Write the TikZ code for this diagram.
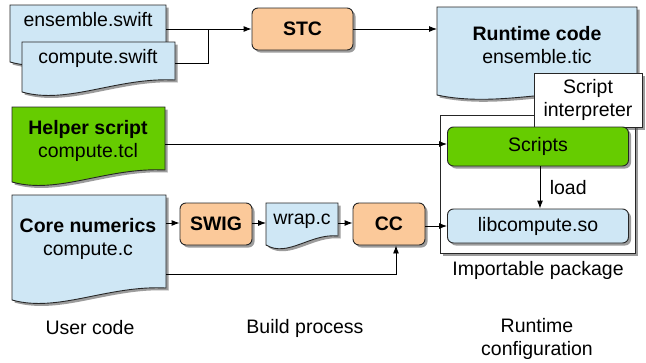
\documentclass[tikz,border=0pt]{standalone}
\usepackage{fontspec}
\setmainfont{Liberation Sans}
\usetikzlibrary{shadows,arrows.meta}
\definecolor{docblue}{HTML}{CFE7F5}
\definecolor{procorange}{HTML}{FBC99A}
\definecolor{scriptgreen}{HTML}{66CC00}
\tikzset{
  sh/.style={drop shadow={shadow xshift=2.5pt,shadow yshift=-2.5pt,opacity=0.55,fill=black!70}},
  outline/.style={draw=black!85,line width=0.9pt},
  proc/.style={outline,fill=procorange,rounded corners=6pt,sh,font=\fontsize{19.5}{23}\selectfont\bfseries},
  lbl/.style={align=center},
  conn/.style={line width=0.9pt,-{Latex[length=8pt,width=6pt]}},
  plain/.style={line width=0.9pt}
}
\newcommand\docshape[6]{%
  \pgfmathsetmacro\dw{#3-#1}%
  \pgfmathsetmacro\ca{#1+0.3*\dw}%
  \pgfmathsetmacro\cb{#1+0.62*\dw}%
  \path[outline,fill=#6,sh] (#1,#2) -- (#3,#2) -- (#3,#5) .. controls (\cb,#5-3) and (\ca,#4+13) .. (#1,#4) -- cycle;}
\begin{document}
\begin{tikzpicture}[x=1pt,y=-1pt,font=\fontsize{19.5}{23}\selectfont]
\useasboundingbox[fill=white] (0,0) rectangle (646,362);
% user code documents
\docshape{10}{5}{166}{62}{52}{docblue}
\node[lbl] (ens) at (88,20) {ensemble.swift};
\docshape{22}{42}{175}{92}{80}{docblue}
\node[lbl] (cmp) at (98,58) {compute.swift};
\docshape{12}{107}{165}{182}{170}{scriptgreen}
\node[lbl] (help) at (88,141) {\textbf{Helper script}\\compute.tcl};
\docshape{12}{195}{166}{300}{288}{docblue}
\node[lbl] (core) at (88,239) {\textbf{Core numerics}\\compute.c};
% build process
\node[proc,minimum width=101pt,minimum height=42pt] (stc) at (302.5,29) {STC};
\node[proc,minimum width=72pt,minimum height=42pt] (swig) at (216,224) {SWIG};
\docshape{266}{203}{338}{245}{236}{docblue}
\node[lbl] (wrap) at (302,221) {wrap.c};
\node[proc,minimum width=72pt,minimum height=42pt] (cc) at (389,224) {CC};
% runtime
\docshape{437}{7}{637}{95}{90}{docblue}
\node[lbl] (rt) at (537,45) {\textbf{Runtime code}\\ensemble.tic};
\node[outline,fill=white,sh,minimum width=195pt,minimum height=138pt] (pkg) at (537.5,184) {};
\node[outline,fill=white,sh,minimum width=108pt,minimum height=54pt,align=center] (si) at (588,100) {Script\\interpreter};
\node[outline,fill=scriptgreen,rounded corners=6pt,sh,minimum width=181pt,minimum height=39pt] (scr) at (538,146.5) {Scripts};
\node[outline,fill=docblue,rounded corners=6pt,sh,minimum width=181pt,minimum height=34pt] (lib) at (538,226) {libcompute.so};
\node (pkglbl) at (538,270) {Importable package};
% column labels
\node (uc) at (90,328) {User code};
\node (bp) at (305,328) {Build process};
\node[lbl] (rc) at (537,339) {Runtime\\configuration};
% connectors
\coordinate (ensR) at (166,29);
\coordinate (cmpR) at (175,63);
\coordinate (j) at (208,29);
\draw[plain] (cmpR) -- (208,63) -- (j);
\draw[conn] (ensR) -- (stc.west |- ensR);
\draw[conn] (stc.east) -- (437,29);
\coordinate (helpR) at (165,144);
\draw[conn] (helpR) -- (scr.west |- helpR);
\draw[conn] (scr.south -| 540,0) -- (lib.north -| 540,0) node[midway,right=6pt] {load};
\coordinate (coreR) at (166,223);
\draw[conn] (coreR) -- (swig.west |- coreR);
\draw[conn] (swig.east |- coreR) -- (266,223);
\draw[conn] (338,223) -- (cc.west |- coreR);
\draw[conn] (cc.east |- lib) -- (lib.west);
\coordinate (coreB) at (166,274);
\draw[conn] (coreB) -- (396,274) -- (cc.south -| 396,0);
\end{tikzpicture}
\end{document}
